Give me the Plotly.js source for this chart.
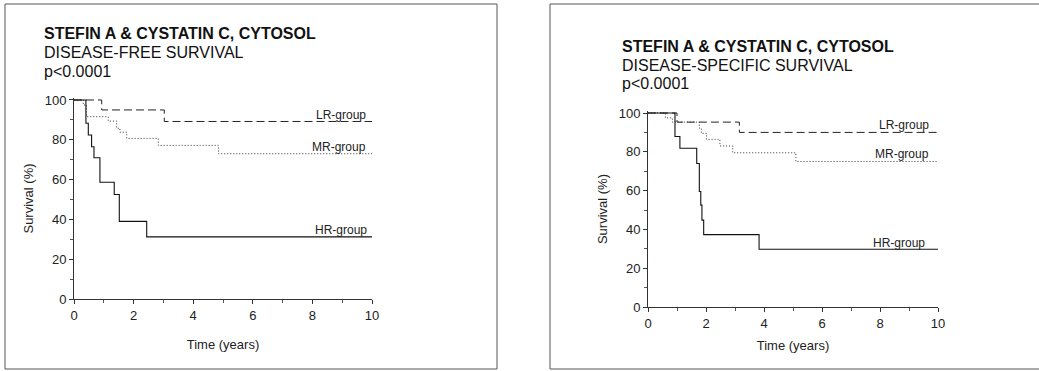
<!DOCTYPE html>
<html>
<head>
<meta charset="utf-8">
<script src="https://cdn.plot.ly/plotly-3.0.1.min.js"></script>
<style>
html,body{margin:0;padding:0;background:#fff;}
#chart{width:1039px;height:371px;}
</style>
</head>
<body>
<div id="chart"></div>
<script>
// ---- Data ----
// Panel A: disease-free survival
const dfsLR_t = [0, 0.93, 3.03, 10];
const dfsLR_s = [100, 95.0, 89.2, 89.2];
const dfsMR_t = [0, 0.31, 0.42, 1.15, 1.43, 1.54, 1.77, 2.83, 4.85, 10];
const dfsMR_s = [100, 97.5, 91.6, 89.4, 85.8, 83.8, 80.7, 77.2, 73.0, 73.0];
const dfsHR_t = [0, 0.40, 0.48, 0.59, 0.67, 0.87, 1.35, 1.52, 2.44, 10];
const dfsHR_s = [100, 88.3, 82.4, 76.5, 71.0, 58.7, 52.5, 39.0, 31.2, 31.2];
// Panel B: disease-specific survival
const dssLR_t = [0, 1.0, 3.15, 10];
const dssLR_s = [100, 95.3, 90.0, 90.0];
const dssMR_t = [0, 0.6, 0.84, 1.77, 1.84, 2.02, 2.48, 2.92, 5.10, 10];
const dssMR_s = [100, 97.5, 95.3, 92.1, 89.5, 86.4, 83.0, 79.5, 75.0, 75.0];
const dssHR_t = [0, 0.93, 1.10, 1.68, 1.77, 1.82, 1.86, 1.92, 3.83, 10];
const dssHR_s = [100, 87.9, 81.8, 74.0, 59.5, 52.5, 44.8, 37.3, 29.8, 29.8];

const groupNames = ["LR-group", "MR-group", "HR-group"];
const titleMain = "STEFIN A & CYSTATIN C, CYTOSOL";
const subtitles = ["DISEASE-FREE SURVIVAL", "DISEASE-SPECIFIC SURVIVAL"];
const pText = "p<0.0001";
const xTitle = "Time (years)";
const yTitle = "Survival (%)";
const xTicks = [0, 2, 4, 6, 8, 10];
const yTicks = [0, 20, 40, 60, 80, 100];

// ---- Styling ----
const W = 1039, H = 371;
const FONT = "Liberation Sans, Arial, Helvetica, sans-serif";
const px = v => v / W;
const py = v => 1 - v / H;

const styles = {
  LR: {color: "#222", width: 1, dash: "8px,4px"},
  MR: {color: "#333", width: 1, dash: "1px,2px"},
  HR: {color: "#111", width: 1.1, dash: "solid"}
};

function km(t, s, st, xa, ya, name) {
  return {x: t, y: s, type: "scatter", mode: "lines", name: name,
    line: {shape: "hv", color: st.color, width: st.width, dash: st.dash},
    xaxis: xa, yaxis: ya, showlegend: false, hoverinfo: "skip"};
}

const traces = [
  km(dfsLR_t, dfsLR_s, styles.LR, "x", "y", groupNames[0]),
  km(dfsMR_t, dfsMR_s, styles.MR, "x", "y", groupNames[1]),
  km(dfsHR_t, dfsHR_s, styles.HR, "x", "y", groupNames[2]),
  km(dssLR_t, dssLR_s, styles.LR, "x2", "y2", groupNames[0]),
  km(dssMR_t, dssMR_s, styles.MR, "x2", "y2", groupNames[1]),
  km(dssHR_t, dssHR_s, styles.HR, "x2", "y2", groupNames[2])
];

function xAxis(domain, anchor, standoff) {
  return {domain: domain, anchor: anchor, range: [0, 10], tickvals: xTicks,
    ticks: "outside", ticklen: 4, tickwidth: 1, tickcolor: "#333",
    minor: {dtick: 1, tick0: 0, ticks: "outside", ticklen: 3, tickcolor: "#555"},
    showline: true, linecolor: "#333", linewidth: 1, showgrid: false, zeroline: false,
    tickfont: {family: FONT, size: 13, color: "#222"},
    title: {text: xTitle, font: {family: FONT, size: 13, color: "#222"}, standoff: standoff}};
}
function yAxis(domain, anchor) {
  return {domain: domain, anchor: anchor, range: [0, 101], tickvals: yTicks,
    ticks: "outside", ticklen: 4, tickwidth: 1, tickcolor: "#333",
    minor: {dtick: 10, tick0: 0, ticks: "outside", ticklen: 3, tickcolor: "#555"},
    showline: true, linecolor: "#333", linewidth: 1, showgrid: false, zeroline: false,
    tickfont: {family: FONT, size: 13, color: "#222"},
    title: {text: yTitle, font: {family: FONT, size: 13, color: "#222"}, standoff: 8}};
}

function ann(x, y, text, opts) {
  return Object.assign({xref: "paper", yref: "paper", x: px(x), y: py(y), text: text,
    showarrow: false, xanchor: "left", yanchor: "middle",
    font: {family: FONT, size: 12, color: "#222"}}, opts || {});
}

const tFont = {family: FONT, size: 16, color: "#111"};
const annotations = [
  ann(42, 33.5, "<b>" + titleMain + "</b>", {font: tFont}),
  ann(42, 52.5, subtitles[0], {font: tFont}),
  ann(42, 71.5, pText, {font: tFont}),
  ann(620, 47, "<b>" + titleMain + "</b>", {font: tFont}),
  ann(620, 65.5, subtitles[1], {font: tFont}),
  ann(620, 84, pText, {font: tFont}),
  ann(368, 115, groupNames[0], {xanchor: "right"}),
  ann(368, 146.5, groupNames[1], {xanchor: "right"}),
  ann(369, 230, groupNames[2], {xanchor: "right"}),
  ann(931, 125, groupNames[0], {xanchor: "right"}),
  ann(931, 154, groupNames[1], {xanchor: "right"}),
  ann(927, 242.5, groupNames[2], {xanchor: "right"})
];

const shapes = [
  {type: "rect", xref: "paper", yref: "paper", x0: px(5), x1: px(497), y0: py(369), y1: py(4),
   line: {color: "#555", width: 1}},
  {type: "rect", xref: "paper", yref: "paper", x0: px(550), x1: px(1045), y0: py(369), y1: py(4),
   line: {color: "#555", width: 1}}
];

const layout = {
  width: W, height: H, margin: {l: 0, r: 0, t: 0, b: 0},
  paper_bgcolor: "#fff", plot_bgcolor: "#fff", showlegend: false,
  xaxis: xAxis([px(74), px(372)], "y", 18),
  yaxis: yAxis([py(299), py(98)], "x"),
  xaxis2: xAxis([px(648), px(938)], "y2", 11),
  yaxis2: yAxis([py(307), py(111.06)], "x2"),
  annotations: annotations, shapes: shapes,
  font: {family: FONT}
};

Plotly.newPlot("chart", traces, layout, {staticPlot: true, displayModeBar: false});
</script>
</body>
</html>
